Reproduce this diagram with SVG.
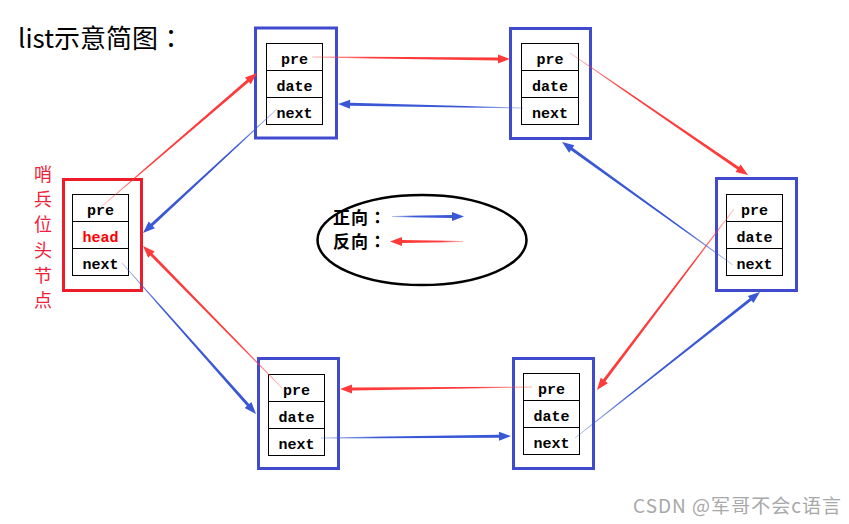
<svg xmlns="http://www.w3.org/2000/svg" width="849" height="524" viewBox="0 0 849 524">
<style>
.box{fill:none;stroke:#3f4bcc;stroke-width:3}
.hbox{fill:none;stroke:#ec1c2a;stroke-width:3}
.cell{fill:#fff;stroke:#000;stroke-width:1}
.t{font-family:"Liberation Mono",monospace;font-weight:bold;font-size:15px;text-anchor:middle;fill:#000}
.side{font-family:"Noto Sans CJK SC",sans-serif;font-size:18px;text-anchor:middle;fill:#f0203a}
.leg{font-family:"Noto Sans CJK SC",sans-serif;font-weight:bold;font-size:17px;fill:#000;letter-spacing:1px}
.jp{font-family:"Noto Sans CJK JP",sans-serif}
</style>
<defs>
<linearGradient id="gr"><stop offset="0" stop-color="#ff3a3a" stop-opacity="0.35"/><stop offset="0.3" stop-color="#ff3a3a"/></linearGradient>
<linearGradient id="gb"><stop offset="0" stop-color="#3a58d6" stop-opacity="0.35"/><stop offset="0.3" stop-color="#3a58d6"/></linearGradient>
</defs>
<rect width="849" height="524" fill="#fff"/>
<text x="18" y="48" font-family="'Noto Sans CJK SC',sans-serif" font-size="26" fill="#000">list示意简图<tspan class="jp">：</tspan></text>
<g id="side-label">
<text class="side" x="43" y="181">哨</text>
<text class="side" x="43" y="206">兵</text>
<text class="side" x="43" y="231">位</text>
<text class="side" x="43" y="257">头</text>
<text class="side" x="43" y="282">节</text>
<text class="side" x="43" y="307">点</text>
</g>
<g id="node-head">
<rect class="hbox" x="63.5" y="179.5" width="78" height="111"/>
<rect class="cell" x="72.5" y="194.5" width="56" height="81"/>
<line class="cell" x1="72.5" y1="221.5" x2="128.5" y2="221.5"/>
<line class="cell" x1="72.5" y1="248.5" x2="128.5" y2="248.5"/>
<text class="t" x="100.5" y="215">pre</text>
<text class="t" x="100.5" y="242" style="fill:#f00">head</text>
<text class="t" x="100.5" y="269">next</text>
</g>
<g id="node-a">
<rect class="box" x="255.5" y="28" width="81" height="110"/>
<rect class="cell" x="266.5" y="43.5" width="56" height="81"/>
<line class="cell" x1="266.5" y1="70.5" x2="322.5" y2="70.5"/>
<line class="cell" x1="266.5" y1="97.5" x2="322.5" y2="97.5"/>
<text class="t" x="294.5" y="64">pre</text>
<text class="t" x="294.5" y="91">date</text>
<text class="t" x="294.5" y="118">next</text>
</g>
<g id="node-b">
<rect class="box" x="510.5" y="28.5" width="80" height="110"/>
<rect class="cell" x="521.5" y="43.5" width="57" height="81"/>
<line class="cell" x1="521.5" y1="70.5" x2="578.5" y2="70.5"/>
<line class="cell" x1="521.5" y1="97.5" x2="578.5" y2="97.5"/>
<text class="t" x="550" y="64">pre</text>
<text class="t" x="550" y="91">date</text>
<text class="t" x="550" y="118">next</text>
</g>
<g id="node-c">
<rect class="box" x="716.5" y="178.5" width="80" height="112"/>
<rect class="cell" x="726.5" y="194.5" width="56" height="81"/>
<line class="cell" x1="726.5" y1="221.5" x2="782.5" y2="221.5"/>
<line class="cell" x1="726.5" y1="248.5" x2="782.5" y2="248.5"/>
<text class="t" x="754.5" y="215">pre</text>
<text class="t" x="754.5" y="242">date</text>
<text class="t" x="754.5" y="269">next</text>
</g>
<g id="node-d">
<rect class="box" x="258.5" y="358.5" width="80" height="110"/>
<rect class="cell" x="268.5" y="374.5" width="56" height="81"/>
<line class="cell" x1="268.5" y1="401.5" x2="324.5" y2="401.5"/>
<line class="cell" x1="268.5" y1="428.5" x2="324.5" y2="428.5"/>
<text class="t" x="296.5" y="395">pre</text>
<text class="t" x="296.5" y="422">date</text>
<text class="t" x="296.5" y="449">next</text>
</g>
<g id="node-e">
<rect class="box" x="513.5" y="358.5" width="80" height="110"/>
<rect class="cell" x="523.5" y="373.5" width="56" height="81"/>
<line class="cell" x1="523.5" y1="400.5" x2="579.5" y2="400.5"/>
<line class="cell" x1="523.5" y1="427.5" x2="579.5" y2="427.5"/>
<text class="t" x="551.5" y="394">pre</text>
<text class="t" x="551.5" y="421">date</text>
<text class="t" x="551.5" y="448">next</text>
</g>
<g id="legend">
<ellipse cx="422" cy="240" rx="104.5" ry="45" fill="none" stroke="#000" stroke-width="2.5"/>
<text class="leg" x="333" y="223.5">正向<tspan class="jp">：</tspan></text>
<text class="leg" x="333" y="248">反向<tspan class="jp">：</tspan></text>
<polygon fill="url(#gb)" transform="translate(392,216.5)" points="0,-0.6 60,-1.5 60,-4.5 72,0 60,4.5 60,1.5 0,0.6"/>
<polygon fill="url(#gr)" transform="translate(463,241.5) rotate(180)" points="0,-0.6 61,-1.5 61,-4.5 73,0 61,4.5 61,1.5 0,0.6"/>
</g>
<g id="connectors">
<polygon fill="url(#gr)" transform="translate(101,207) rotate(-40.66)" points="0,-0.4 193.6,-1.5 193.6,-4.5 205.6,0 193.6,4.5 193.6,1.5 0,0.4"/>
<polygon fill="url(#gr)" transform="translate(312,57) rotate(0.58)" points="0,-0.4 186,-1.5 186,-4.5 198,0 186,4.5 186,1.5 0,0.4"/>
<polygon fill="url(#gr)" transform="translate(570,53) rotate(34.42)" points="0,-0.4 203.8,-1.5 203.8,-4.5 215.8,0 203.8,4.5 203.8,1.5 0,0.4"/>
<polygon fill="url(#gr)" transform="translate(734,209) rotate(127.12)" points="0,-0.4 215,-1.5 215,-4.5 227,0 215,4.5 215,1.5 0,0.4"/>
<polygon fill="url(#gr)" transform="translate(532,387) rotate(179.4)" points="0,-0.4 180,-1.5 180,-4.5 192,0 180,4.5 180,1.5 0,0.4"/>
<polygon fill="url(#gr)" transform="translate(282,388) rotate(-134.38)" points="0,-0.4 186.7,-1.5 186.7,-4.5 198.7,0 186.7,4.5 186.7,1.5 0,0.4"/>
<polygon fill="url(#gb)" transform="translate(122,263) rotate(48.41)" points="0,-0.4 189.9,-1.5 189.9,-4.5 201.9,0 189.9,4.5 189.9,1.5 0,0.4"/>
<polygon fill="url(#gb)" transform="translate(321,438) rotate(-0.6)" points="0,-0.4 178,-1.5 178,-4.5 190,0 178,4.5 178,1.5 0,0.4"/>
<polygon fill="url(#gb)" transform="translate(575,438) rotate(-38.28)" points="0,-0.4 223.7,-1.5 223.7,-4.5 235.7,0 223.7,4.5 223.7,1.5 0,0.4"/>
<polygon fill="url(#gb)" transform="translate(733,265) rotate(-144.27)" points="0,-0.4 198.6,-1.5 198.6,-4.5 210.6,0 198.6,4.5 198.6,1.5 0,0.4"/>
<polygon fill="url(#gb)" transform="translate(523,108) rotate(-178.76)" points="0,-0.4 173,-1.5 173,-4.5 185,0 173,4.5 173,1.5 0,0.4"/>
<polygon fill="url(#gb)" transform="translate(277,109) rotate(137.22)" points="0,-0.4 170.6,-1.5 170.6,-4.5 182.6,0 170.6,4.5 170.6,1.5 0,0.4"/>
</g>
<text x="633" y="513" font-family="'Noto Sans CJK SC',sans-serif" font-size="19" fill="#a8a8a8" textLength="208" lengthAdjust="spacing">CSDN @军哥不会c语言</text>
</svg>
